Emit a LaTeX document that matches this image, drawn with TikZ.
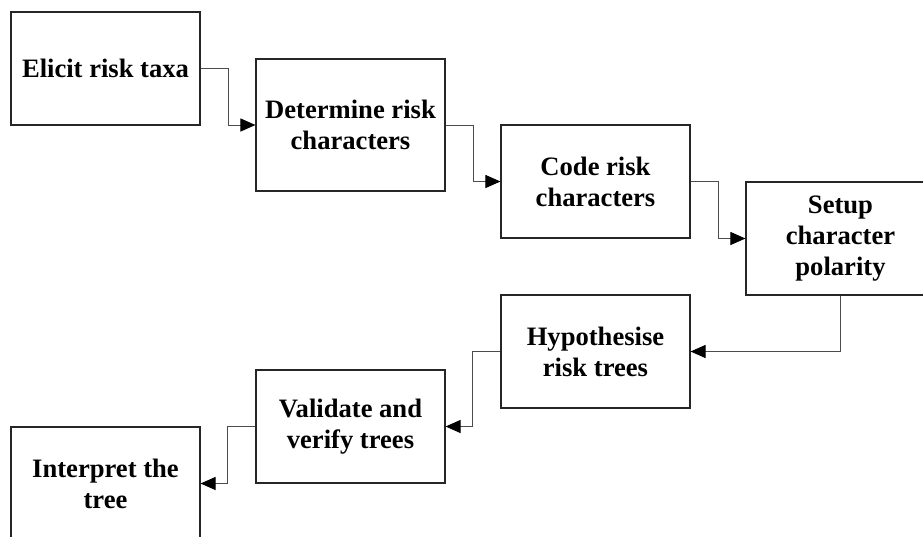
\documentclass[tikz,border=0pt]{standalone}
\usepackage{fontspec}
\setmainfont{Liberation Serif}
\usetikzlibrary{arrows.meta}
\tikzset{
  box/.style={draw=black!85, line width=1.1pt, fill=white, minimum width=189pt, minimum height=113pt,
    inner sep=0pt, align=center, font=\bfseries\fontsize{26.6}{31}\selectfont, text=black},
  conn/.style={draw=black!70, line width=1pt, -{Triangle[length=15pt,width=13pt,fill=black,color=black]}}
}
\begin{document}
\begin{tikzpicture}[x=1pt,y=1pt]
\path[use as bounding box] (0,0) rectangle (923,-536);
\clip (0,0) rectangle (923,-536);
\fill[white] (0,0) rectangle (923,-536);
\node[box] (b1) at (105.5,-68.5) {Elicit risk taxa};
\node[box, minimum height=132pt] (b2) at (350.5,-125) {Determine risk\\characters};
\node[box] (b3) at (595.5,-181.5) {Code risk\\characters};
\node[box] (b4) at (840.5,-238.5) {Setup\\character\\polarity};
\node[box] (b5) at (595.5,-351.5) {Hypothesise\\risk trees};
\node[box] (b6) at (350.5,-426.5) {Validate and\\verify trees};
\node[box] (b7) at (105.5,-483.5) {Interpret the\\tree};
\draw[conn] (b1.east) -- ++(28,0) |- (b2.west);
\draw[conn] (b2.east) -- ++(28,0) |- (b3.west);
\draw[conn] (b3.east) -- ++(28,0) |- (b4.west);
\draw[conn] (b4.south) |- (b5.east);
\draw[conn] (b5.west) -- ++(-28,0) |- (b6.east);
\draw[conn] (b6.west) -- ++(-28,0) |- (b7.east);
\end{tikzpicture}
\end{document}
